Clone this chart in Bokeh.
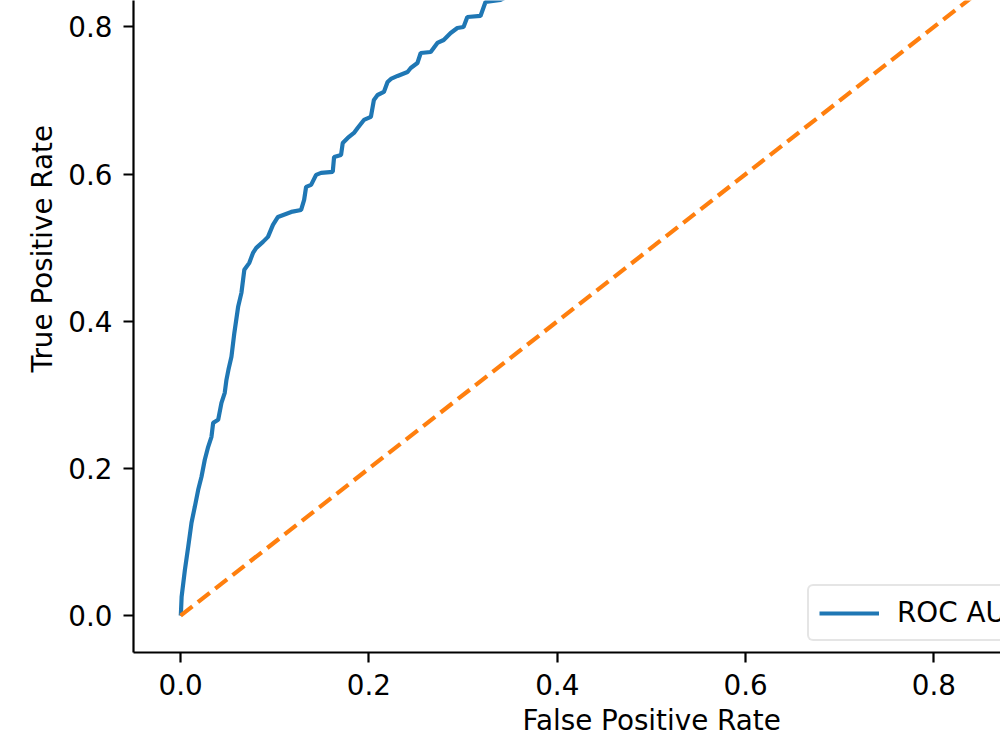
import numpy as np
from bokeh.plotting import figure
from bokeh.models import (Range1d, FixedTicker, PrintfTickFormatter, Legend,
                          LegendItem, Title)
from bokeh.embed import file_html
from bokeh.resources import INLINE

# ROC curve points (false positive rate, true positive rate)
fpr = [0.0, 0.0003, 0.0011, 0.0046, 0.0081, 0.0116, 0.0151, 0.0187, 0.0222, 0.0257,
       0.0293, 0.0328, 0.0346, 0.0399, 0.0434, 0.0469, 0.0487, 0.0508, 0.0540, 0.0571,
       0.0611, 0.0646, 0.0677, 0.0730, 0.0769, 0.0804, 0.0875, 0.0928, 0.0981, 0.1034,
       0.1175, 0.1280, 0.1312, 0.1333, 0.1386, 0.1439, 0.1492, 0.1616, 0.1630, 0.1704,
       0.1722, 0.1775, 0.1841, 0.1880, 0.1947, 0.2021, 0.2053, 0.2092, 0.2159, 0.2198,
       0.2233, 0.2304, 0.2410, 0.2444, 0.2515, 0.2550, 0.2656, 0.2727, 0.2794, 0.2868,
       0.2939, 0.3005, 0.3045, 0.3185, 0.3238, 0.3397, 0.36, 0.42, 0.50, 0.60,
       0.70, 0.80, 0.90, 1.0]
tpr = [0.0, 0.0014, 0.0258, 0.0625, 0.0937, 0.1263, 0.1480, 0.1711, 0.1888, 0.2119,
       0.2295, 0.2431, 0.2621, 0.2662, 0.2893, 0.3029, 0.3205, 0.3341, 0.3518, 0.3844,
       0.4197, 0.4387, 0.4700, 0.4795, 0.4930, 0.4998, 0.5080, 0.5148, 0.5311, 0.5419,
       0.5487, 0.5514, 0.5650, 0.5827, 0.5854, 0.5990, 0.6017, 0.6031, 0.6234, 0.6261,
       0.6424, 0.6492, 0.6560, 0.6628, 0.6737, 0.6778, 0.7009, 0.7076, 0.7117, 0.7253,
       0.7294, 0.7335, 0.7389, 0.7443, 0.7511, 0.7647, 0.7660, 0.7783, 0.7823, 0.7918,
       0.7986, 0.8000, 0.8136, 0.8150, 0.8340, 0.8367, 0.85, 0.88, 0.91, 0.94,
       0.96, 0.98, 0.99, 1.0]

# chance-level diagonal
chance = [0.0, 1.0]

x_ticks = [0.0, 0.2, 0.4, 0.6, 0.8]
y_ticks = [0.0, 0.2, 0.4, 0.6, 0.8]

auc = float(np.trapezoid(tpr, fpr))

FONT = "DejaVu Sans"
FS = "27.8px"

p = figure(width=1000, height=750, output_backend="svg", toolbar_location=None,
           x_range=Range1d(-0.05, 0.8707), y_range=Range1d(-0.05, 0.836),
           min_border_left=133, min_border_right=0, min_border_top=0,
           min_border_bottom=98)
p.outline_line_color = None
p.xgrid.visible = False
p.ygrid.visible = False
p.background_fill_color = "white"
p.border_fill_color = "white"

p.xaxis.ticker = FixedTicker(ticks=x_ticks)
p.yaxis.ticker = FixedTicker(ticks=y_ticks)

for ax in (p.xaxis[0], p.yaxis[0]):
    ax.formatter = PrintfTickFormatter(format="%.1f")
    ax.axis_line_color = "black"
    ax.axis_line_width = 2.2
    ax.major_tick_line_color = "black"
    ax.major_tick_line_width = 2.2
    ax.major_tick_out = 10
    ax.major_tick_in = 0
    ax.minor_tick_out = 0
    ax.minor_tick_in = 0
    ax.major_label_text_font = FONT
    ax.major_label_text_font_size = FS
    ax.major_label_text_color = "black"
    ax.major_label_standoff = 11

# axis titles, placed with an offset so they sit at the middle of the 0..1 rate span
p.add_layout(Title(text="False Positive Rate", align="left", offset=389,
                   standoff=8, text_font=FONT, text_font_size=FS,
                   text_font_style="normal", text_color="black"), "below")
p.add_layout(Title(text="True Positive Rate", align="left", offset=280,
                   standoff=14, text_font=FONT, text_font_size=FS,
                   text_font_style="normal", text_color="black"), "left")

roc = p.line(fpr, tpr, line_color="#1f77b4", line_width=4.2)
p.line(chance, chance, line_color="#ff7f0e", line_width=4.2, line_dash="15 7")

legend = Legend(items=[LegendItem(label=f"ROC AUC = {auc:.2f}", renderers=[roc])],
                location=(674, 11), margin=0, padding=10, spacing=0,
                glyph_width=60, glyph_height=28, label_standoff=18,
                label_height=28,
                label_text_font=FONT, label_text_font_size=FS,
                label_text_color="black",
                border_line_color="#cccccc", border_line_width=2,
                border_radius=6, background_fill_color="white",
                background_fill_alpha=0.8)
p.add_layout(legend)

open("out.html", "w").write(file_html(p, INLINE))
